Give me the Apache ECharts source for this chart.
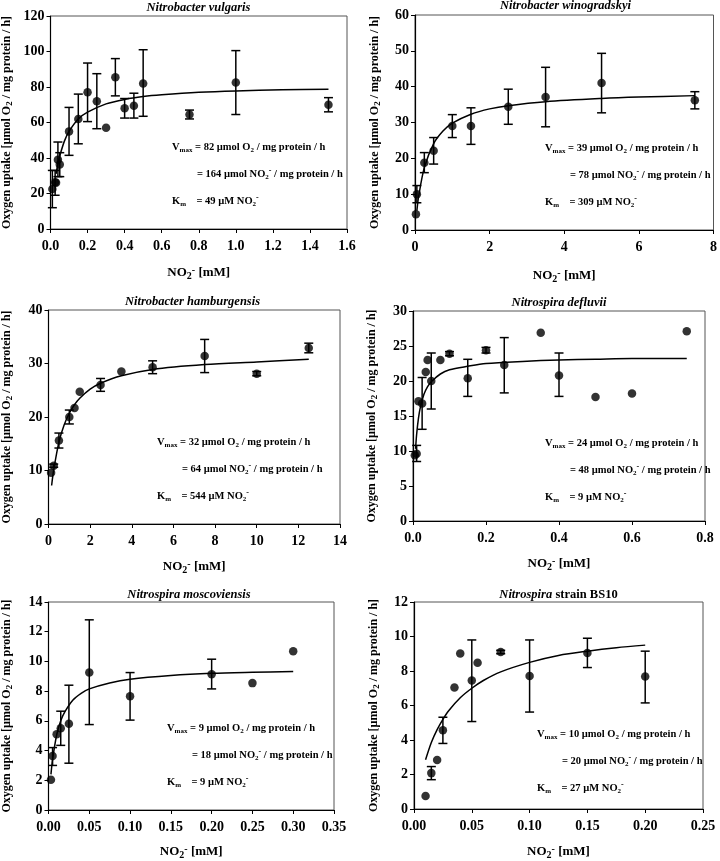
<!DOCTYPE html>
<html>
<head>
<meta charset="utf-8">
<script src="https://cdn.jsdelivr.net/npm/echarts@6/dist/echarts.min.js"></script>
<style>
html,body{margin:0;padding:0;background:#fff;}
#c{width:720px;height:861px;}
</style>
</head>
<body>
<div id="c"></div>
<script>
// ---------------- DATA ----------------
// Panel 1: Nitrobacter vulgaris
const title1 = 'Nitrobacter vulgaris';
const x1 = [0.01, 0.025, 0.03, 0.04, 0.05, 0.1, 0.15, 0.2, 0.25, 0.3, 0.35, 0.4, 0.45, 0.5, 0.75, 1.0, 1.5];
const y1 = [22.5, 26.3, 26, 39, 36.4, 55, 62, 77, 72, 57, 85.5, 68, 69.5, 82, 64.5, 82.5, 70];
const lo1 = [12, 19, null, 29.5, 29.5, 41.5, 48, 60.5, 56.5, null, 75, 62.5, 62.5, 63.5, 62, 64.5, 66];
const hi1 = [33, 33, null, 49, 43, 68.5, 76, 93.5, 87.5, null, 96, 73.5, 76.5, 101, 67, 100.5, 74];
const cx1 = [0.03, 0.04, 0.05, 0.075, 0.1, 0.15, 0.2, 0.3, 0.4, 0.5, 0.6, 0.8, 1.0, 1.25, 1.5];
const cy1 = [31, 37, 41.2, 49.5, 55, 62, 65.8, 70.5, 73, 74.6, 75.6, 77, 77.8, 78.4, 78.8];
const ann1 = ['82', '164', '49'];

// Panel 2: Nitrobacter winogradskyi
const title2 = 'Nitrobacter winogradskyi';
const x2 = [0.025, 0.05, 0.25, 0.5, 1, 1.5, 2.5, 3.5, 5, 7.5];
const y2 = [4.4, 10, 18.8, 22.1, 29, 29, 34.4, 37.1, 41, 36.2];
const lo2 = [null, 7.6, 16, 18.4, 25.8, 23.9, 29.5, 28.8, 32.7, 33.8];
const hi2 = [null, 12.4, 21.6, 25.8, 32.2, 34.1, 39.3, 45.4, 49.3, 38.6];
const cx2 = [0.05, 0.1, 0.25, 0.5, 0.75, 1, 1.5, 2, 2.5, 3.5, 5, 6, 7.5];
const cy2 = [5.4, 9.5, 17.4, 24.1, 27.6, 29.8, 32.3, 33.8, 34.7, 35.8, 36.7, 37.1, 37.5];
const ann2 = ['39', '78', '309'];

// Panel 3: Nitrobacter hamburgensis
const title3 = 'Nitrobacter hamburgensis';
const x3 = [0.125, 0.25, 0.5, 1, 1.25, 1.5, 2.5, 3.5, 5, 7.5, 10, 12.5];
const y3 = [9.6, 10.9, 15.6, 20, 21.7, 24.7, 26, 28.5, 29.3, 31.4, 28.1, 32.9];
const lo3 = [null, 10.6, 14.2, 18.7, null, null, 24.8, null, 28.1, 28.3, 27.7, 32];
const hi3 = [null, 11.2, 17, 21.3, null, null, 27.2, null, 30.5, 34.5, 28.5, 33.8];
const cx3 = [0.15, 0.25, 0.5, 0.75, 1, 1.25, 1.5, 2, 2.5, 3.5, 5, 7.5, 10, 12.5];
const cy3 = [7.2, 10.1, 15.3, 18.5, 20.7, 22.3, 23.5, 25.2, 26.3, 27.7, 28.9, 29.8, 30.3, 30.8];
const ann3 = ['32', '64', '544'];

// Panel 4: Nitrospira defluvii
const title4 = 'Nitrospira defluvii';
const x4 = [0.005, 0.01, 0.015, 0.025, 0.035, 0.04, 0.05, 0.075, 0.1, 0.15, 0.2, 0.25, 0.35, 0.4, 0.5, 0.6, 0.75];
const y4 = [9.4, 9.6, 17.1, 16.8, 21.3, 23, 20, 23, 23.9, 20.4, 24.4, 22.3, 26.9, 20.8, 17.7, 18.2, 27.1];
const lo4 = [null, 8.5, null, 13.1, null, null, 16, null, 23.6, 17.8, 24, 18.3, null, 17.8, null, null, null];
const hi4 = [null, 10.8, null, 20.5, null, null, 24, null, 24.2, 23.1, 24.8, 26.2, null, 24, null, null, null];
const cx4 = [0.007, 0.01, 0.015, 0.02, 0.03, 0.04, 0.05, 0.075, 0.1, 0.15, 0.2, 0.3, 0.4, 0.5, 0.6, 0.75];
const cy4 = [10.3, 12.4, 14.7, 16.2, 18.1, 19.2, 19.9, 21.0, 21.6, 22.1, 22.5, 22.8, 23.0, 23.1, 23.2, 23.2];
const ann4 = ['24', '48', '9'];

// Panel 5: Nitrospira moscoviensis
const title5 = 'Nitrospira moscoviensis';
const x5 = [0.003, 0.005, 0.01, 0.015, 0.025, 0.05, 0.1, 0.2, 0.25, 0.3];
const y5 = [2.03, 3.63, 5.1, 5.5, 5.8, 9.25, 7.65, 9.14, 8.54, 10.68];
const lo5 = [null, 3.0, null, 4.35, 3.15, 5.75, 6.05, 8.15, null, null];
const hi5 = [null, 4.2, null, 6.65, 8.4, 12.8, 9.25, 10.15, null, null];
const cx5 = [0.003, 0.005, 0.01, 0.015, 0.02, 0.03, 0.04, 0.05, 0.075, 0.1, 0.15, 0.2, 0.25, 0.3];
const cy5 = [2.4, 3.4, 5.05, 6.0, 6.6, 7.4, 7.85, 8.15, 8.55, 8.8, 9.05, 9.2, 9.27, 9.32];
const ann5 = ['9', '18', '9'];

// Panel 6: Nitrospira strain BS10
const title6 = 'Nitrospira';
const title6b = 'strain BS10';
const x6 = [0.01, 0.015, 0.02, 0.025, 0.035, 0.04, 0.05, 0.055, 0.075, 0.1, 0.15, 0.2];
const y6 = [0.75, 2.08, 2.84, 4.57, 7.05, 9.02, 7.45, 8.48, 9.1, 7.71, 9.05, 7.68];
const lo6 = [null, 1.7, null, 3.8, null, null, 5.07, null, 9.0, 5.62, 8.2, 6.15];
const hi6 = [null, 2.46, null, 5.32, null, null, 9.8, null, 9.2, 9.8, 9.9, 9.15];
const cx6 = [0.01, 0.015, 0.02, 0.025, 0.03, 0.04, 0.05, 0.06, 0.075, 0.1, 0.125, 0.15, 0.175, 0.2];
const cy6 = [2.85, 3.85, 4.6, 5.2, 5.7, 6.45, 7.0, 7.45, 7.95, 8.5, 8.9, 9.15, 9.35, 9.5];
const ann6 = ['10', '20', '27'];

// Axis scales
const xMax = [1.6, 8, 14, 0.8, 0.35, 0.25];
const xInt = [0.2, 2, 2, 0.2, 0.05, 0.05];
const xDec = [1, 0, 0, 1, 2, 2];
const yMax = [120, 60, 40, 30, 14, 12];
const yInt = [20, 10, 10, 5, 2, 2];

// ---------------- LAYOUT ----------------
const FONT = '"Liberation Serif", "Times New Roman", serif';
const grids = [
  {left: 50, top: 16, width: 297, height: 213},
  {left: 415, top: 15, width: 301, height: 215},
  {left: 45, top: 310, width: 295, height: 214},
  {left: 413, top: 311, width: 292, height: 210},
  {left: 44, top: 602, width: 290, height: 210},
  {left: 414, top: 602, width: 289, height: 210}
];
const xNameGap = [36, 38, 35, 35, 34, 35];
const yNameGap = [36, 33, 34, 34, 34, 33];
const titleY = [8, 6, 302, 303, 595, 595];
const annPos = [[172, 147], [545, 148], [157, 442], [545, 443], [167, 728], [537, 734]];

const panels = [
  {x: x1, y: y1, lo: lo1, hi: hi1, cx: cx1, cy: cy1, ann: ann1},
  {x: x2, y: y2, lo: lo2, hi: hi2, cx: cx2, cy: cy2, ann: ann2},
  {x: x3, y: y3, lo: lo3, hi: hi3, cx: cx3, cy: cy3, ann: ann3},
  {x: x4, y: y4, lo: lo4, hi: hi4, cx: cx4, cy: cy4, ann: ann4},
  {x: x5, y: y5, lo: lo5, hi: hi5, cx: cx5, cy: cy5, ann: ann5},
  {x: x6, y: y6, lo: lo6, hi: hi6, cx: cx6, cy: cy6, ann: ann6}
];
const titles = [title1, title2, title3, title4, title5, null];

const richBase = {
  t: {fontFamily: FONT, fontWeight: 'bold', fontSize: 10.5, lineHeight: 14, color: '#000'},
  s: {fontFamily: FONT, fontWeight: 'bold', fontSize: 7, lineHeight: 7, verticalAlign: 'bottom', color: '#000'},
  p: {fontFamily: FONT, fontWeight: 'bold', fontSize: 8, lineHeight: 8, verticalAlign: 'top', color: '#000'}
};
const richAxis = {
  t: {fontFamily: FONT, fontWeight: 'bold', fontSize: 12, lineHeight: 15, color: '#000'},
  s: {fontFamily: FONT, fontWeight: 'bold', fontSize: 9, lineHeight: 8, verticalAlign: 'bottom', color: '#000'},
  p: {fontFamily: FONT, fontWeight: 'bold', fontSize: 9, lineHeight: 8, verticalAlign: 'top', color: '#000'}
};
const richX = {
  t: {fontFamily: FONT, fontWeight: 'bold', fontSize: 13, lineHeight: 16, color: '#000'},
  s: {fontFamily: FONT, fontWeight: 'bold', fontSize: 10, lineHeight: 9, verticalAlign: 'bottom', color: '#000'},
  p: {fontFamily: FONT, fontWeight: 'bold', fontSize: 10, lineHeight: 8, verticalAlign: 'top', color: '#000'}
};

const option = {
  animation: false,
  backgroundColor: '#fff',
  grid: grids.map(g => Object.assign({show: true, borderColor: '#555', borderWidth: 1, backgroundColor: 'transparent'}, g)),
  xAxis: [], yAxis: [], series: [], graphic: []
};

function errRender(params, api) {
  const x = api.value(0), lo = api.value(1), hi = api.value(2);
  const a = api.coord([x, hi]);
  const b = api.coord([x, lo]);
  const w = 4.5;
  const st = {stroke: '#000', lineWidth: 1.5};
  return {type: 'group', children: [
    {type: 'line', shape: {x1: a[0], y1: a[1], x2: b[0], y2: b[1]}, style: st},
    {type: 'line', shape: {x1: a[0] - w, y1: a[1], x2: a[0] + w, y2: a[1]}, style: st},
    {type: 'line', shape: {x1: b[0] - w, y1: b[1], x2: b[0] + w, y2: b[1]}, style: st}
  ]};
}

panels.forEach((p, i) => {
  const dec = xDec[i];
  option.xAxis.push({
    type: 'value', gridIndex: i, min: 0, max: xMax[i], interval: xInt[i],
    name: '{t|NO}{s|2}{p|-}{t| [mM]}', nameLocation: 'middle', nameGap: xNameGap[i],
    nameTextStyle: {rich: richX},
    axisLine: {onZero: false, lineStyle: {color: '#000', width: 1.2}},
    axisTick: {show: true, inside: false, length: 4, lineStyle: {color: '#000'}},
    axisLabel: {color: '#000', fontFamily: FONT, fontWeight: 'bold', fontSize: 14, margin: 10,
      formatter: v => v.toFixed(dec)},
    splitLine: {show: false}
  });
  option.yAxis.push({
    type: 'value', gridIndex: i, min: 0, max: yMax[i], interval: yInt[i],
    name: '{t|Oxygen uptake [µmol O}{s|2}{t| / mg protein / h]}', nameLocation: 'middle', nameGap: yNameGap[i],
    nameTextStyle: {rich: richAxis},
    axisLine: {show: true, onZero: false, lineStyle: {color: '#000', width: 1.2}},
    axisTick: {show: true, inside: false, length: 4, lineStyle: {color: '#000'}},
    axisLabel: {color: '#000', fontFamily: FONT, fontWeight: 'bold', fontSize: 14, margin: 6},
    splitLine: {show: false}
  });
  const errData = [];
  p.x.forEach((xv, k) => { if (p.lo[k] != null) errData.push([xv, p.lo[k], p.hi[k]]); });
  option.series.push({
    type: 'custom', xAxisIndex: i, yAxisIndex: i, renderItem: errRender,
    encode: {x: 0, y: [1, 2]}, data: errData, z: 2
  });
  option.series.push({
    type: 'line', xAxisIndex: i, yAxisIndex: i, showSymbol: false, symbol: 'none', smooth: 0.3,
    lineStyle: {color: '#000', width: 1.5}, data: p.cx.map((v, k) => [v, p.cy[k]]), z: 3
  });
  option.series.push({
    type: 'scatter', xAxisIndex: i, yAxisIndex: i, symbol: 'circle', symbolSize: 8.5,
    itemStyle: {color: '#000'}, data: p.x.map((v, k) => [v, p.y[k]]), z: 4
  });

  // Title
  const g = grids[i];
  const cxp = g.left + g.width / 2;
  if (titles[i]) {
    option.graphic.push({type: 'text', x: cxp, y: titleY[i], style: {
      text: titles[i], fill: '#000', font: 'italic bold 12.5px ' + FONT, align: 'center', verticalAlign: 'middle'}});
  } else {
    option.graphic.push({type: 'text', x: cxp, y: titleY[i], style: {
      text: '{i|' + title6 + '} {n|' + title6b + '}', align: 'center', verticalAlign: 'middle',
      rich: {
        i: {fontFamily: FONT, fontStyle: 'italic', fontWeight: 'bold', fontSize: 12.5, color: '#000'},
        n: {fontFamily: FONT, fontWeight: 'bold', fontSize: 12.5, color: '#000'}
      }}});
  }
  // Annotations
  const [ax, ay] = annPos[i];
  const lines = [
    {dx: 0, dy: 0, text: '{t|V}{s|max}{t| = ' + p.ann[0] + ' µmol O}{s|2}{t| / mg protein / h}'},
    {dx: 25, dy: 27, text: '{t|= ' + p.ann[1] + ' µmol NO}{s|2}{p|-}{t| / mg protein / h}'},
    {dx: 0, dy: 54, text: '{t|K}{s|m}{t|    = ' + p.ann[2] + ' µM NO}{s|2}{p|-}'}
  ];
  lines.forEach(l => {
    option.graphic.push({type: 'text', x: ax + l.dx, y: ay + l.dy, z: 10, style: {
      text: l.text, rich: richBase, align: 'left', verticalAlign: 'middle'}});
  });
});

const chart = echarts.init(document.getElementById('c'), null, {renderer: 'canvas'});
chart.setOption(option);
</script>
</body>
</html>
